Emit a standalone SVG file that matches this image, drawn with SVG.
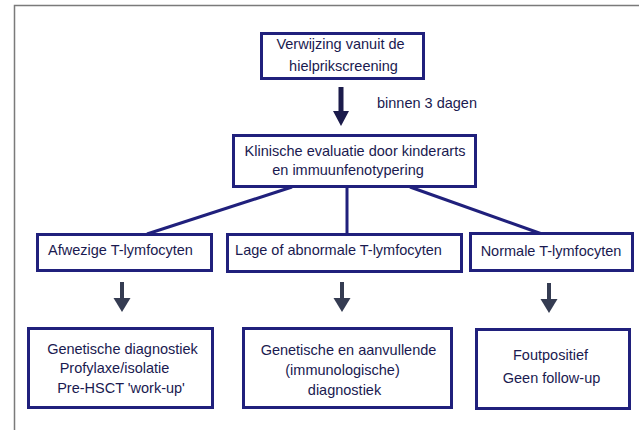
<svg xmlns="http://www.w3.org/2000/svg" width="639" height="430" viewBox="0 0 639 430">
<style>
.box{fill:#ffffff;stroke:#20207c;stroke-width:3}
.t{font-family:"Liberation Sans",Arial,sans-serif;font-size:14.5px;fill:#1a1a50;text-anchor:middle}
.ts{font-family:"Liberation Sans",Arial,sans-serif;font-size:14.5px;fill:#1a1a50}
.con{stroke:#20207c;stroke-width:3;fill:none}
.frame{stroke:#7a7a7a;stroke-width:1.5;fill:none}
</style>
<rect width="639" height="430" fill="#ffffff"/>
<path class="frame" d="M14.5 430 V5.5 H639"/>
<g id="connectors">
<path class="con" d="M292 187 L147 234"/>
<path class="con" d="M347 187 V234"/>
<path class="con" d="M410 187 L542 234"/>
<g id="arrow-top" fill="#1b1b4b">
<rect x="338.5" y="87" width="5" height="25"/>
<polygon points="333,111 349,111 341,126"/>
</g>
<g id="arrow-left" fill="#353c52">
<rect x="120" y="282" width="4" height="17"/>
<polygon points="113.5,298 130.5,298 122,312"/>
</g>
<g id="arrow-mid" fill="#353c52">
<rect x="340" y="282" width="4" height="17"/>
<polygon points="333.5,298 350.5,298 342,312"/>
</g>
<g id="arrow-right" fill="#353c52">
<rect x="547" y="283" width="4" height="17"/>
<polygon points="540.5,299 557.5,299 549,313"/>
</g>
<text class="ts" x="377" y="108">binnen 3 dagen</text>
</g>
<g id="node-verwijzing">
<rect class="box" x="261.5" y="33.5" width="162" height="45"/>
<text class="t" x="340.5" y="49">Verwijzing vanuit de</text>
<text class="t" x="343.5" y="71">hielprikscreening</text>
</g>
<g id="node-klinische">
<rect class="box" x="233.5" y="135.5" width="242" height="51"/>
<text class="t" x="355" y="156">Klinische evaluatie door kinderarts</text>
<text class="t" x="348" y="175">en immuunfenotypering</text>
</g>
<g id="node-afwezige">
<rect class="box" x="37.5" y="234.5" width="174" height="36"/>
<text class="t" x="120.5" y="255">Afwezige T-lymfocyten</text>
</g>
<g id="node-lage">
<rect class="box" x="227.5" y="234.5" width="234" height="37"/>
<text class="t" x="338.5" y="255">Lage of abnormale T-lymfocyten</text>
</g>
<g id="node-normale">
<rect class="box" x="470.5" y="233.5" width="162" height="37"/>
<text class="t" x="551" y="256">Normale T-lymfocyten</text>
</g>
<g id="node-genetische">
<rect class="box" x="28.5" y="328.5" width="184" height="79"/>
<text class="t" x="122.5" y="354">Genetische diagnostiek</text>
<text class="t" x="114.5" y="373">Profylaxe/isolatie</text>
<text class="t" x="121" y="393">Pre-HSCT 'work-up'</text>
</g>
<g id="node-aanvullende">
<rect class="box" x="243.5" y="328.5" width="208" height="79"/>
<text class="t" x="348.5" y="355">Genetische en aanvullende</text>
<text class="t" x="342.5" y="375">(immunologische)</text>
<text class="t" x="344.5" y="395">diagnostiek</text>
</g>
<g id="node-foutpositief">
<rect class="box" x="476.5" y="329.5" width="153" height="79"/>
<text class="t" x="550.5" y="360">Foutpositief</text>
<text class="t" x="551.5" y="383">Geen follow-up</text>
</g>
</svg>
